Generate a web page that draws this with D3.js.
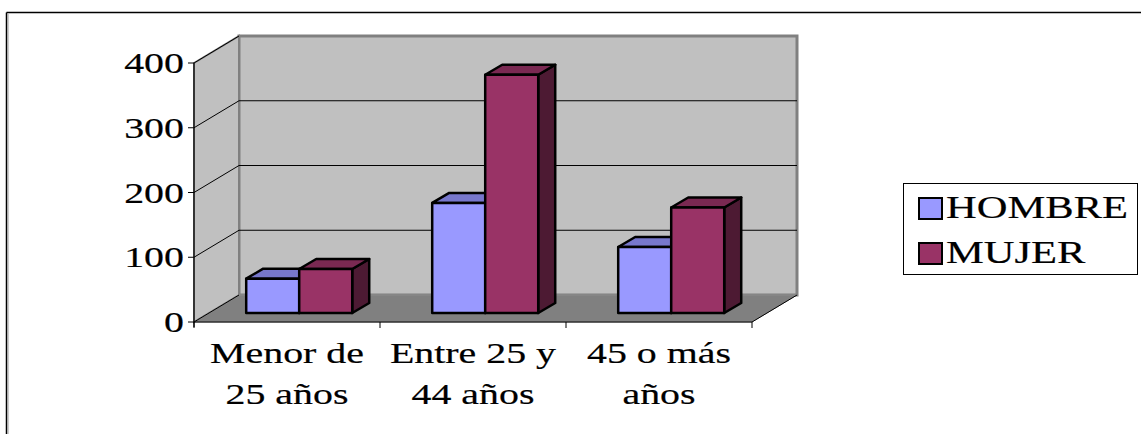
<!DOCTYPE html>
<html lang="en">
<head>
<meta charset="UTF-8" />
<title>Edad por sexo</title>
<script src="https://d3js.org/d3.v7.min.js"></script>
<style>
  body { margin: 0; background: #fff; }
  svg { display: block; }
  text { font-family: "Liberation Serif", "Times New Roman", serif; fill: #000; stroke: #000; stroke-width: 0.2px; }
</style>
</head>
<body>
<svg id="chart"></svg>
<script>
const categories = ["Menor de 25 años", "Entre 25 y 44 años", "45 o más años"];
const categoryLines = [["Menor de", "25 años"], ["Entre 25 y", "44 años"], ["45 o más", "años"]];
const series = ["HOMBRE", "MUJER"];
const hombre = [53, 170, 102];
const mujer = [68, 368, 163];
const yTicks = [0, 100, 200, 300, 400];

const width = 1141, height = 434;
const svg = d3.select("#chart").attr("width", width).attr("height", height);

// front plane scales, depth goes up-right
const x = d3.scaleBand().domain(categories).range([194, 752]);
const y = d3.scaleLinear().domain([0, 400]).range([322, 63]);
const depth = { dx: 45, dy: -27 };
const barShift = { dx: 15, dy: -9 };   // bars sit a third of the way back
const barDepth = { dx: 17, dy: -10 };
const stretch = 1.33; // text looks horizontally widened

const colors = {
  HOMBRE: { front: "#9999ff", top: "#7777cc", side: "#5c5c99" },
  MUJER: { front: "#993366", top: "#7a2952", side: "#4d1a33" }
};

// outer border (only top and left show)
svg.append("line").attr("x1", 6.5).attr("y1", 12.5).attr("x2", width).attr("y2", 12.5)
  .attr("stroke", "#000").attr("stroke-width", 1.5);
svg.append("line").attr("x1", 6.5).attr("y1", 12.5).attr("x2", 6.5).attr("y2", height)
  .attr("stroke", "#000").attr("stroke-width", 1.5);
svg.append("line").attr("x1", 8).attr("y1", 14).attr("x2", 8).attr("y2", height)
  .attr("stroke", "#999").attr("stroke-width", 1);

const x0 = x.range()[0], x1 = x.range()[1];
const yTop = y(400), yBot = y(0);
const pts = a => a.map(p => p.join(",")).join(" ");

// back wall
svg.append("rect")
  .attr("x", x0 + depth.dx).attr("y", yTop + depth.dy)
  .attr("width", x1 - x0).attr("height", yBot - yTop)
  .attr("fill", "#c0c0c0").attr("stroke", "#808080").attr("stroke-width", 3);

// side wall
svg.append("polygon")
  .attr("points", pts([[x0, yTop], [x0 + depth.dx, yTop + depth.dy], [x0 + depth.dx, yBot + depth.dy], [x0, yBot]]))
  .attr("fill", "#c0c0c0").attr("stroke", "#808080").attr("stroke-width", 2);

// gridlines on back wall and side wall
const grid = svg.append("g");
yTicks.filter(t => t > 0 && t < 400).forEach(t => {
  grid.append("line")
    .attr("x1", x0 + depth.dx).attr("x2", x1 + depth.dx)
    .attr("y1", y(t) + depth.dy).attr("y2", y(t) + depth.dy)
    .attr("stroke", "#000").attr("stroke-width", 1);
});
yTicks.filter(t => t > 0).forEach(t => {
  grid.append("line")
    .attr("x1", x0).attr("y1", y(t))
    .attr("x2", x0 + depth.dx).attr("y2", y(t) + depth.dy)
    .attr("stroke", "#000").attr("stroke-width", 1);
});

// floor
svg.append("polygon")
  .attr("points", pts([[x0, yBot], [x1, yBot], [x1 + depth.dx, yBot + depth.dy], [x0 + depth.dx, yBot + depth.dy]]))
  .attr("fill", "#808080").attr("stroke", "#8c8c8c").attr("stroke-width", 1);
svg.append("line")
  .attr("x1", x1).attr("y1", yBot).attr("x2", x1 + depth.dx).attr("y2", yBot + depth.dy)
  .attr("stroke", "#000").attr("stroke-width", 1);
svg.append("line")
  .attr("x1", x0).attr("y1", yBot).attr("x2", x0 + depth.dx).attr("y2", yBot + depth.dy)
  .attr("stroke", "#000").attr("stroke-width", 1);

// bars
const bw = x.bandwidth();
const barW = bw * 0.285;
const gapL = bw * 0.2;
const data = [];
categories.forEach((c, i) => {
  data.push({ cat: c, s: "HOMBRE", v: hombre[i], k: 0 });
  data.push({ cat: c, s: "MUJER", v: mujer[i], k: 1 });
});
const bars = svg.append("g");
data.forEach(d => {
  const bx = x(d.cat) + barShift.dx + gapL + d.k * barW;
  const by0 = y(0) + barShift.dy;
  const by1 = y(d.v) + barShift.dy;
  const c = colors[d.s];
  const g = bars.append("g").attr("stroke", "#000").attr("stroke-width", 2.5).attr("stroke-linejoin", "round");
  g.append("polygon")
    .attr("points", pts([[bx + barW, by1], [bx + barW + barDepth.dx, by1 + barDepth.dy], [bx + barW + barDepth.dx, by0 + barDepth.dy], [bx + barW, by0]]))
    .attr("fill", c.side);
  g.append("polygon")
    .attr("points", pts([[bx, by1], [bx + barW, by1], [bx + barW + barDepth.dx, by1 + barDepth.dy], [bx + barDepth.dx, by1 + barDepth.dy]]))
    .attr("fill", c.top);
  g.append("rect")
    .attr("x", bx).attr("y", by1).attr("width", barW).attr("height", by0 - by1)
    .attr("fill", c.front);
});

// y axis
svg.append("line").attr("x1", x0).attr("x2", x0).attr("y1", yTop).attr("y2", yBot + 5)
  .attr("stroke", "#000").attr("stroke-width", 1.2);
yTicks.forEach(t => {
  svg.append("line").attr("x1", x0 - 6).attr("x2", x0).attr("y1", y(t)).attr("y2", y(t))
    .attr("stroke", "#000").attr("stroke-width", 1);
  svg.append("text")
    .attr("transform", `translate(${x0 - 10},${y(t) + 10}) scale(${stretch},1)`)
    .attr("text-anchor", "end").attr("font-size", 30).text(t);
});

// x axis
svg.append("line").attr("x1", x0).attr("x2", x1).attr("y1", yBot).attr("y2", yBot)
  .attr("stroke", "#000").attr("stroke-width", 1.2);
[x0, ...categories.map(c => x(c) + bw)].forEach(px => {
  svg.append("line").attr("x1", px).attr("x2", px).attr("y1", yBot).attr("y2", yBot + 6)
    .attr("stroke", "#000").attr("stroke-width", 1);
});
categories.forEach((c, i) => {
  categoryLines[i].forEach((line, j) => {
    svg.append("text")
      .attr("transform", `translate(${x(c) + bw / 2},${363 + j * 41}) scale(${stretch},1)`)
      .attr("text-anchor", "middle").attr("font-size", 30).text(line);
  });
});

// legend
const lg = svg.append("g");
lg.append("rect").attr("x", 903.5).attr("y", 183.5).attr("width", 234).attr("height", 91)
  .attr("fill", "#fff").attr("stroke", "#000").attr("stroke-width", 1);
series.forEach((s, i) => {
  const ly = 198 + i * 45;
  lg.append("rect").attr("x", 919).attr("y", ly).attr("width", 23).attr("height", 21)
    .attr("fill", colors[s].front).attr("stroke", "#000").attr("stroke-width", 2);
  lg.append("text")
    .attr("transform", `translate(946,${ly + 20}) scale(${stretch},1)`)
    .attr("font-size", 32).text(s);
});
</script>
</body>
</html>
